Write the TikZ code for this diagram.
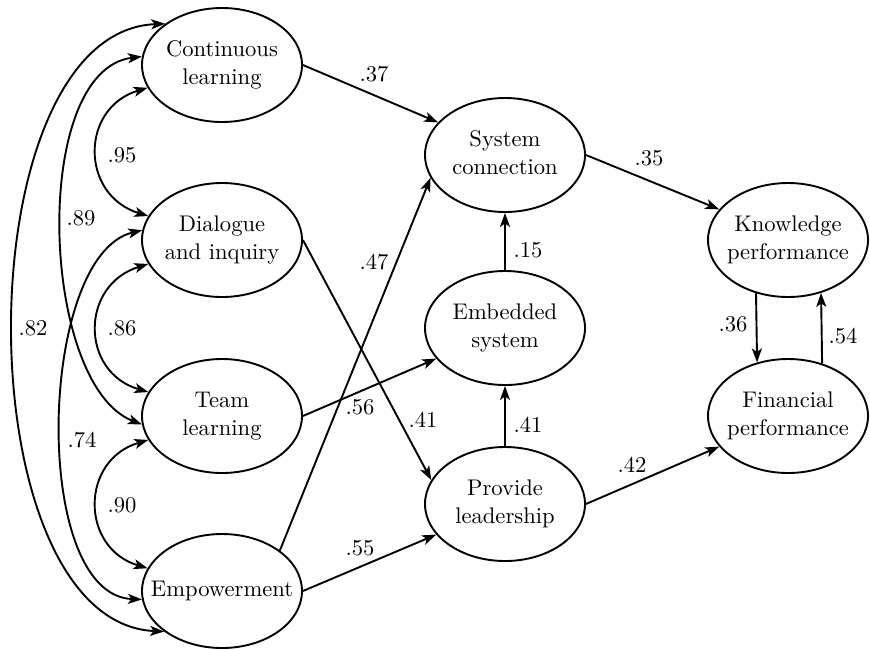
\documentclass[tikz,border=0pt]{standalone}
\usepackage{fontspec}
\setmainfont{lmroman10-regular.otf}
\usetikzlibrary{arrows.meta,shapes.geometric}
\newcommand{\twolines}[1]{\makebox[0pt]{\begin{tabular}{@{}c@{}}#1\end{tabular}}}
\begin{document}
\begin{tikzpicture}[x=1pt,y=-1pt,
  ell/.style={draw, ellipse, line width=1.9pt, minimum width=160pt, minimum height=114pt, inner sep=0pt, font=\fontsize{22.6}{28.5}\selectfont},
  conn/.style={line width=1.9pt, -{Stealth[length=14pt,width=10pt,inset=3.5pt]}},
  corr/.style={line width=1.9pt, {Stealth[length=14pt,width=10pt,inset=3.5pt]}-{Stealth[length=14pt,width=10pt,inset=3.5pt]}},
  coef/.style={inner sep=0pt, font=\fontsize{22.6}{26}\selectfont}]
\useasboundingbox (0,0) rectangle (870,649);
% nodes
\node[ell] (cl) at (222,65) {\twolines{Continuous\\learning}};
\node[ell] (di) at (222,240) {\twolines{Dialogue\\and inquiry}};
\node[ell] (tl) at (222,416) {\twolines{Team\\learning}};
\node[ell] (em) at (222,591) {\twolines{Empowerment}};
\node[ell] (sc) at (505,155) {\twolines{System\\connection}};
\node[ell] (es) at (505,328) {\twolines{Embedded\\system}};
\node[ell] (pl) at (505,504) {\twolines{Provide\\leadership}};
\node[ell] (kp) at (788,240) {\twolines{Knowledge\\performance}};
\node[ell] (fp) at (788,416) {\twolines{Financial\\performance}};
% correlations
\draw[corr] (cl.144) .. controls (-37,32) and (-37,622) .. (em.215);
\draw[corr] (cl.174) .. controls (30,70) and (40,385) .. (tl.186);
\draw[corr] (di.173) .. controls (38,255) and (30,595) .. (em.186);
\draw[corr] (cl.197) .. controls (80,108) and (80,195) .. (di.162);
\draw[corr] (di.198) .. controls (80,285) and (80,372) .. (tl.162);
\draw[corr] (tl.198) .. controls (80,460) and (80,548) .. (em.163);
% paths
\draw[conn] (cl.east) -- (sc.154);
\draw[conn] (di.east) -- (pl.162);
\draw[conn] (tl.east) -- (es.204);
\draw[conn] (em.35) -- (sc.197);
\draw[conn] (em.east) -- (pl.204);
\draw[conn] (es.north) -- (sc.south);
\draw[conn] (pl.north) -- (es.south);
\draw[conn] (sc.east) -- (kp.156);
\draw[conn] (pl.east) -- (fp.204);
\draw[conn] (kp.239.4) -- (fp.120.6);
\draw[conn] (fp.57.5) -- (kp.302.5);
% coefficients
\node[coef] (c95) at (122,155) {.95};
\node[coef] (c89) at (81,218) {.89};
\node[coef] (c82) at (33,328) {.82};
\node[coef] (c86) at (122,328) {.86};
\node[coef] (c74) at (82,440) {.74};
\node[coef] (c90) at (122,505) {.90};
\node[coef] (c37) at (374,74) {.37};
\node[coef] (c47) at (374,262) {.47};
\node[coef] (c15) at (528,250) {.15};
\node[coef] (c56) at (360,407) {.56};
\node[coef] (c41a) at (423,420) {.41};
\node[coef] (c41b) at (528,425) {.41};
\node[coef] (c55) at (360,548) {.55};
\node[coef] (c35) at (649,158) {.35};
\node[coef] (c42) at (632,465) {.42};
\node[coef] (c36) at (733,324) {.36};
\node[coef] (c54) at (843,336) {.54};
\end{tikzpicture}
\end{document}
